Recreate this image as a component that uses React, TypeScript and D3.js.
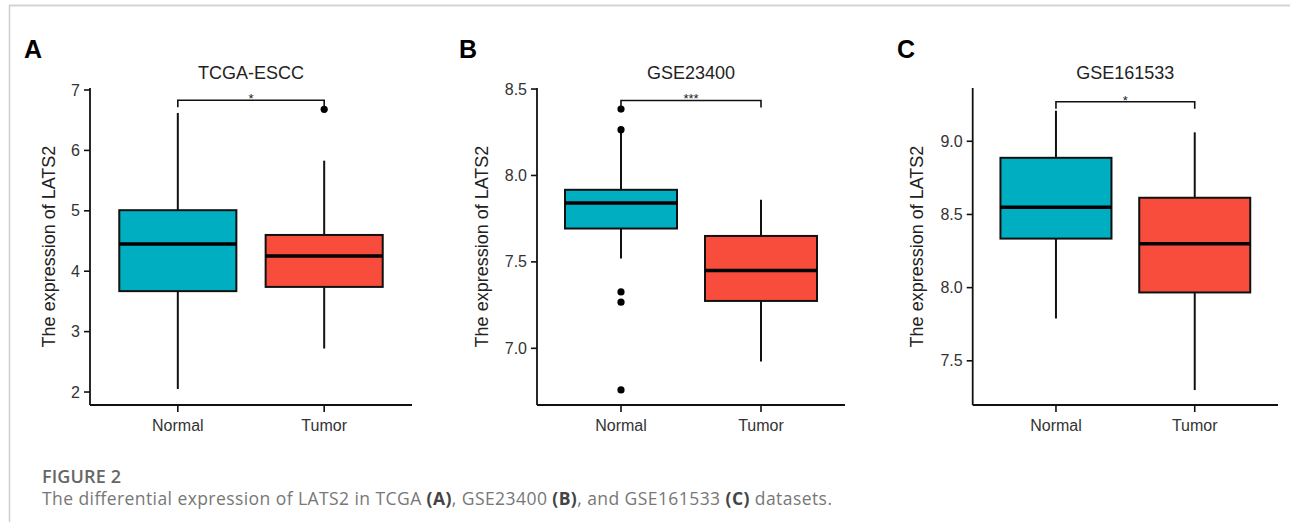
import * as d3 from "d3";
import React from "react";

// groups and per-panel content
const groups = ["Normal", "Tumor"];
const panelLetters = ["A", "B", "C"];
const panelTitles = ["TCGA-ESCC", "GSE23400", "GSE161533"];
const tickValues = [
  [2, 3, 4, 5, 6, 7],
  [7.0, 7.5, 8.0, 8.5],
  [7.5, 8.0, 8.5, 9.0],
];
const tickFormats = [".0f", ".1f", ".1f"];
const yDomains = [
  [1.785, 7.033],
  [6.672, 8.506],
  [7.198, 9.364],
];

// box stats: [lower whisker, q1, median, q3, upper whisker]
const normalStats = [
  [2.05, 3.67, 4.45, 5.01, 6.62],
  [7.52, 7.693, 7.84, 7.917, 8.262],
  [7.789, 8.335, 8.55, 8.887, 9.209],
];
const tumorStats = [
  [2.72, 3.74, 4.25, 4.6, 5.83],
  [6.923, 7.274, 7.45, 7.65, 7.859],
  [7.3, 7.967, 8.3, 8.614, 9.061],
];
const normalOutliers = [[], [8.384, 8.265, 7.326, 7.267, 6.759], []];
const tumorOutliers = [[6.68], [], []];
const signifY = [6.83, 8.434, 9.27];
const signifLabels = ["*", "***", "*"];

const colors = { Normal: "#00AEC2", Tumor: "#F84C3C" };

// panel layout
const axisLeft = [90, 537, 972.7];
const axisRight = [412, 845, 1278];
const plotTop = 88;
const plotBottom = 405;
const letterX = [24, 459, 897];
const yTitleX = [49, 482, 917];

const font = "'Liberation Sans', Arial, sans-serif";

function Panel({ i }: { i: number }) {
  const x = d3
    .scalePoint()
    .domain(groups)
    .range([axisLeft[i], axisRight[i]])
    .padding(0.6);
  const y = d3.scaleLinear().domain(yDomains[i]).range([plotBottom, plotTop]);
  const step = x.step();
  const boxW = step * 0.8;
  const fmt = d3.format(tickFormats[i]);
  const stats = [normalStats[i], tumorStats[i]];
  const outliers = [normalOutliers[i], tumorOutliers[i]];
  const tip = 7;
  const x1 = x("Normal")!;
  const x2 = x("Tumor")!;
  const sy = y(signifY[i]);

  return (
    <g>
      <text x={letterX[i]} y={58} fontSize={25} fontWeight="bold" fontFamily={font} fill="#000">
        {panelLetters[i]}
      </text>
      <text
        x={(axisLeft[i] + axisRight[i]) / 2}
        y={79}
        textAnchor="middle"
        fontSize={18}
        fontFamily={font}
        fill="#222"
      >
        {panelTitles[i]}
      </text>

      {/* whiskers and boxes */}
      {groups.map((g, k) => {
        const s = stats[k];
        const cx = x(g)!;
        return (
          <g key={g}>
            <line x1={cx} x2={cx} y1={y(s[0])} y2={y(s[1])} stroke="#111" strokeWidth={2} />
            <line x1={cx} x2={cx} y1={y(s[3])} y2={y(s[4])} stroke="#111" strokeWidth={2} />
            <rect
              x={cx - boxW / 2}
              y={y(s[3])}
              width={boxW}
              height={y(s[1]) - y(s[3])}
              fill={colors[g as keyof typeof colors]}
              stroke="#111"
              strokeWidth={2}
            />
            <line
              x1={cx - boxW / 2}
              x2={cx + boxW / 2}
              y1={y(s[2])}
              y2={y(s[2])}
              stroke="#000"
              strokeWidth={3.5}
            />
            {outliers[k].map((v, j) => (
              <circle key={j} cx={cx} cy={y(v)} r={3.6} fill="#000" />
            ))}
          </g>
        );
      })}

      {/* significance bracket */}
      <path
        d={`M${x1},${sy + tip}V${sy}H${x2}V${sy + tip}`}
        fill="none"
        stroke="#111"
        strokeWidth={1.6}
      />
      <text x={(x1 + x2) / 2} y={sy + 3} textAnchor="middle" fontSize={13} fontFamily={font} fill="#222">
        {signifLabels[i]}
      </text>

      {/* y axis */}
      <line x1={axisLeft[i]} x2={axisLeft[i]} y1={plotTop} y2={plotBottom} stroke="#111" strokeWidth={1.8} />
      {tickValues[i].map((t) => (
        <g key={t}>
          <line x1={axisLeft[i] - 6} x2={axisLeft[i]} y1={y(t)} y2={y(t)} stroke="#111" strokeWidth={1.6} />
          <text
            x={axisLeft[i] - 10}
            y={y(t)}
            dy="0.35em"
            textAnchor="end"
            fontSize={16}
            fontFamily={font}
            fill="#333"
          >
            {fmt(t)}
          </text>
        </g>
      ))}
      <text
        transform={`translate(${yTitleX[i]},${(plotTop + plotBottom) / 2}) rotate(-90)`}
        textAnchor="middle"
        dy="0.35em"
        fontSize={18}
        fontFamily={font}
        fill="#222"
      >
        The expression of LATS2
      </text>

      {/* x axis */}
      <line x1={axisLeft[i]} x2={axisRight[i]} y1={plotBottom} y2={plotBottom} stroke="#111" strokeWidth={1.8} />
      {groups.map((g) => (
        <g key={g}>
          <line x1={x(g)} x2={x(g)} y1={plotBottom} y2={plotBottom + 7} stroke="#111" strokeWidth={1.6} />
          <text x={x(g)} y={plotBottom + 26} textAnchor="middle" fontSize={16} fontFamily={font} fill="#333">
            {g}
          </text>
        </g>
      ))}
    </g>
  );
}

export default function App() {
  const capFont = "'Open Sans', 'Noto Sans', sans-serif";
  return (
    <svg
      width={1290}
      height={522}
      style={{ position: "absolute", left: 0, top: 0, background: "#fff" }}
    >
      <line x1={9} x2={1290} y1={5.5} y2={5.5} stroke="#d4d4d4" strokeWidth={2} />
      <line x1={9.5} x2={9.5} y1={5} y2={522} stroke="#cfcfcf" strokeWidth={1.5} />
      {[0, 1, 2].map((i) => (
        <Panel key={i} i={i} />
      ))}
      <text x={42} y={483} fontSize={18} fontWeight={600} fontFamily={capFont} fill="#666" textLength={79}>
        FIGURE 2
      </text>
      <text x={42} y={505} fontSize={17.5} fontFamily={capFont} fill="#777" textLength={790}>
        The differential expression of LATS2 in TCGA <tspan fontWeight="bold" fill="#444">(A)</tspan>, GSE23400{" "}
        <tspan fontWeight="bold" fill="#444">(B)</tspan>, and GSE161533 <tspan fontWeight="bold" fill="#444">(C)</tspan>{" "}
        datasets.
      </text>
    </svg>
  );
}
